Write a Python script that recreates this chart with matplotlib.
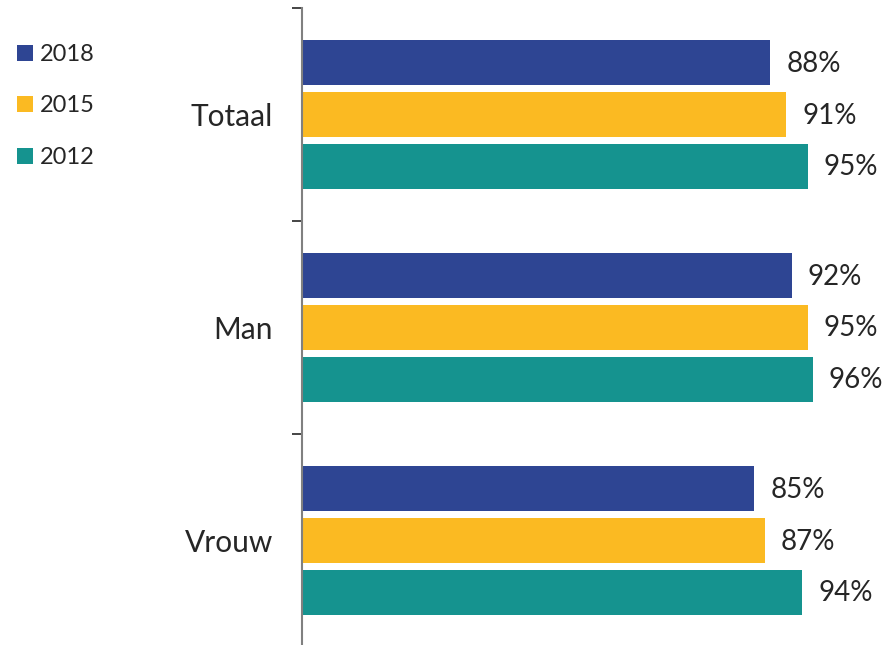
import matplotlib
matplotlib.use("Agg")
import matplotlib.pyplot as plt
import numpy as np

plt.rcParams['font.family'] = ['Lato', 'DejaVu Sans']

categories = ["Totaal", "Man", "Vrouw"]
series_names = ["2018", "2015", "2012"]
values_2018 = [88, 92, 85]
values_2015 = [91, 95, 87]
values_2012 = [95, 96, 94]
series_values = [values_2018, values_2015, values_2012]
colors = ["#2E4593", "#FBBA22", "#15938F"]
text_color = "#262626"

fig = plt.figure(figsize=(8.89, 6.45), dpi=100)
ax = fig.add_axes([302/889, -2/645, 1 - 302/889, 639/645])

y = np.arange(len(categories))
offsets = [-0.242, 0.0, 0.242]
bh = 0.211
bars = []
for name, vals, off, c in zip(series_names, series_values, offsets, colors):
    b = ax.barh(y + off, vals, height=bh, color=c, label=name)
    bars.append(b)
    for yi, v in zip(y, vals):
        ax.annotate(f"{v}%", xy=(v, yi + off), xytext=(16, -1), textcoords="offset pixels",
                    ha="left", va="center", fontsize=20, color=text_color)

ax.set_xlim(0, 110.3)
ax.set_ylim(2.5, -0.5)
for s in ["top", "right", "bottom"]:
    ax.spines[s].set_visible(False)
ax.spines["left"].set_color("#808080")
ax.spines["left"].set_linewidth(1.5)
ax.set_xticks([])
ax.set_yticks([-0.5, 0.5, 1.5, 2.5])
ax.set_yticklabels([])
ax.tick_params(axis="y", which="major", length=7, width=1.2, color="#262626")
ax.set_yticks(y, minor=True)
ax.set_yticklabels(categories, minor=True, fontsize=21.5, color=text_color)
ax.tick_params(axis="y", which="minor", length=0, pad=21)

leg = fig.legend(handles=bars, labels=series_names, loc="upper left",
                 bbox_to_anchor=(17/889, 1 - 44/645), frameon=False,
                 fontsize=17, handlelength=0.68, handleheight=0.68,
                 handletextpad=0.3, labelspacing=1.29, borderaxespad=0, borderpad=0)
for t in leg.get_texts():
    t.set_color(text_color)

fig.savefig("out.png", dpi=100)
